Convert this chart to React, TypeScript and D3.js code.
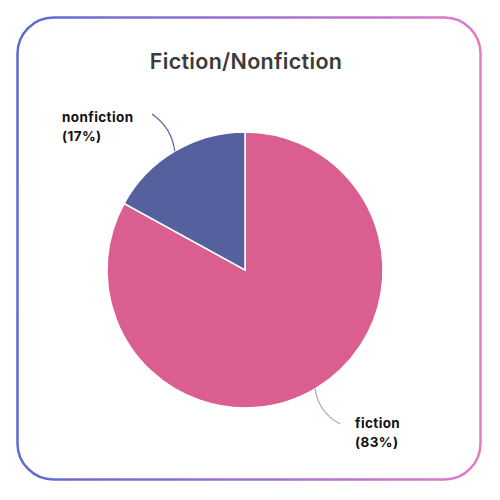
import React from "react";
import * as d3 from "d3";

const categories = ["fiction", "nonfiction"];
const values = [83, 17];
const colors = ["#db5e91", "#56609f"];
const title = "Fiction/Nonfiction";

export default function App() {
  const W = 500, H = 500;
  const cx = 245, cy = 270, r = 138;
  const pie = d3.pie<number>().sort(null).value((d) => d);
  const arcs = pie(values);
  const arc = d3.arc<d3.PieArcDatum<number>>().innerRadius(0).outerRadius(r);
  const labelPos = [
    { x: 355, y: 428, end: [340, 424], ctrl: [318, 412], line: "#c29bb0" },
    { x: 62, y: 122, end: [152, 114], ctrl: [172, 128], line: "#56609f" },
  ];
  return (
    <svg width={W} height={H} style={{ position: "absolute", left: 0, top: 0 }}>
      <defs>
        <linearGradient id="bg" x1="0" x2="1" y1="0" y2="0">
          <stop offset="0" stopColor="#5b6bd2" />
          <stop offset="0.5" stopColor="#a070d0" />
          <stop offset="1" stopColor="#e07cc6" />
        </linearGradient>
      </defs>
      <rect x={0} y={0} width={W} height={H} fill="#fff" />
      <rect x={17.5} y={17.5} width={463} height={462} rx={36} ry={36} fill="#fff" stroke="url(#bg)" strokeWidth={2.5} />
      <text x={246} y={69} textAnchor="middle" fontFamily="Inter, 'Open Sans', sans-serif" fontWeight={600} fontSize={21.5} letterSpacing={0.3} fill="#3b3b3b">
        {title}
      </text>
      <g transform={`translate(${cx},${cy})`}>
        {arcs.map((a, i) => (
          <path key={categories[i]} d={arc(a) || ""} fill={colors[i]} stroke="#fff" strokeWidth={1.5} />
        ))}
      </g>
      {arcs.map((a, i) => {
        const mid = (a.startAngle + a.endAngle) / 2;
        const sx = cx + r * Math.sin(mid), sy = cy - r * Math.cos(mid);
        const lp = labelPos[i];
        const pct = Math.round((values[i] / d3.sum(values)) * 100);
        return (
          <g key={"l" + i}>
            <path d={`M${sx},${sy} Q${lp.ctrl[0]},${lp.ctrl[1]} ${lp.end[0]},${lp.end[1]}`} fill="none" stroke={lp.line} strokeWidth={1.2} />
            <text x={lp.x} y={lp.y} fontFamily="Inter, 'Open Sans', sans-serif" fontWeight={700} fontSize={13.5} letterSpacing={0.4} fill="#111">
              <tspan x={lp.x}>{categories[i]}</tspan>
              <tspan x={lp.x} dy={19}>({pct}%)</tspan>
            </text>
          </g>
        );
      })}
    </svg>
  );
}
